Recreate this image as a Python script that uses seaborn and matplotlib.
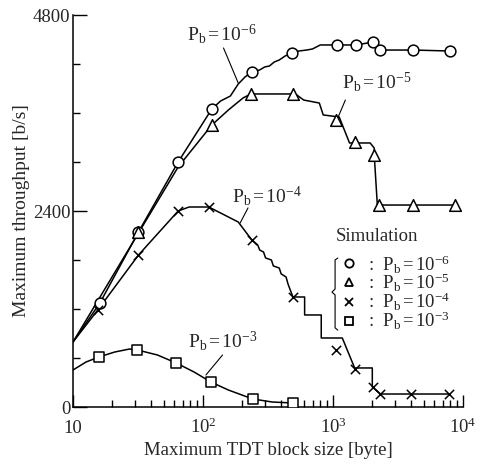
import numpy as np
import pandas as pd
import matplotlib
matplotlib.use("Agg")
import matplotlib.pyplot as plt
from matplotlib.ticker import FixedLocator, LogLocator, NullFormatter
import seaborn as sns

# --- theory curves ---
pb6_line_x = [10, 16.1, 31.9, 64.4, 116.9, 136.6, 162.4, 186.7, 210.4, 237.5, 272.9, 297.6,
              324.6, 353.8, 385.8, 428.4, 483.3, 545.3, 626.4, 695.2, 798.1, 1076, 1496,
              2041, 2318, 4159, 7888]
pb6_line_y = [796, 1273, 2143, 3000, 3649, 3747, 3808, 3955, 4041, 4102, 4127, 4163,
              4176, 4225, 4249, 4298, 4335, 4359, 4371, 4384, 4433, 4433, 4433,
              4469, 4371, 4371, 4359]

pb5_line_x = [10, 31.9, 64.4, 116.9, 156.8, 203.2, 233.4, 491.9, 527.3, 594.8, 784.9, 841.2,
              1116, 1340, 1931, 2076, 2076, 2193, 8654]
pb5_line_y = [796, 2131, 2939, 3453, 3637, 3784, 3833, 3833, 3820, 3759, 3722, 3576,
              3551, 3233, 3233, 3171, 3086, 2473, 2473]

pb4_line_x = [10, 15.5, 31.9, 64.4, 78.2, 110.9, 186.7, 237.5, 263.6, 272.9, 292.2, 302.9,
              335.9, 347.7, 385.8, 399.6, 435.5, 450.8, 491.9, 605, 605, 812.1, 812.1,
              1179, 1467, 2006, 2006, 2318, 7739]
pb4_line_y = [796, 1188, 1861, 2400, 2449, 2449, 2265, 2045, 1984, 1922, 1898, 1825,
              1800, 1727, 1702, 1629, 1592, 1506, 1347, 1347, 1127, 1127, 845,
              845, 478, 478, 245, 159, 159]

pb3_line_x = [10, 12.6, 15.8, 20.9, 27.2, 31.3, 44.6, 62.2, 85.3, 114.9, 156.8, 241.3, 341.7, 491.9]
pb3_line_y = [453, 551, 612, 673, 710, 698, 637, 539, 429, 306, 208, 98, 61, 49]

# --- simulation points ---
sim6_x = [16.1, 31.9, 64.4, 116.9, 237.5, 483.3, 1076, 1496, 2041, 2318, 4159, 7888]
sim6_y = [1273, 2143, 3000, 3649, 4102, 4335, 4433, 4433, 4469, 4371, 4371, 4359]

sim5_x = [31.9, 116.9, 233.4, 491.9, 1056, 1467, 2076, 2274, 4159, 8654]
sim5_y = [2143, 3453, 3833, 3833, 3514, 3245, 3086, 2473, 2473, 2473]

sim4_x = [15.5, 31.9, 64.4, 110.9, 237.5, 491.9, 1056, 1467, 2041, 2318, 4008, 7739]
sim4_y = [1188, 1861, 2400, 2449, 2045, 1347, 698, 465, 245, 159, 159, 159]

sim3_x = [15.8, 31.3, 62.2, 114.9, 241.3, 491.9]
sim3_y = [612, 698, 539, 306, 98, 49]

pb_labels = ["P$_\\mathrm{b}\\,$=$\\,$10$^{-6}$", "P$_\\mathrm{b}\\,$=$\\,$10$^{-5}$",
             "P$_\\mathrm{b}\\,$=$\\,$10$^{-4}$", "P$_\\mathrm{b}\\,$=$\\,$10$^{-3}$"]

sns.set_style("ticks")
plt.rcParams["font.family"] = ["Liberation Serif", "DejaVu Serif"]
plt.rcParams["mathtext.fontset"] = "custom"
plt.rcParams["mathtext.rm"] = "Liberation Serif"
plt.rcParams["mathtext.it"] = "Liberation Serif:italic"
plt.rcParams["axes.unicode_minus"] = True

fig = plt.figure(figsize=(4.81, 4.66), dpi=100)
ax = fig.add_axes([73 / 481, 59 / 466, 390 / 481, 392 / 466])

lines = [(pb6_line_x, pb6_line_y), (pb5_line_x, pb5_line_y),
         (pb4_line_x, pb4_line_y), (pb3_line_x, pb3_line_y)]
for lx, ly in lines:
    df = pd.DataFrame({"x": lx, "y": ly})
    sns.lineplot(data=df, x="x", y="y", sort=False, estimator=None, color="black",
                 lw=1.1, ax=ax, zorder=2)

sims = [(sim6_x, sim6_y, "o", 60), (sim5_x, sim5_y, "^", 70),
        (sim4_x, sim4_y, "x", 45), (sim3_x, sim3_y, "s", 55)]
for sx, sy, mk, sz in sims:
    df = pd.DataFrame({"x": sx, "y": sy})
    if mk == "x":
        sns.scatterplot(data=df, x="x", y="y", marker=mk, s=sz, color="black",
                        linewidth=1.1, ax=ax, zorder=3)
    else:
        sns.scatterplot(data=df, x="x", y="y", marker=mk, s=sz, facecolor="white",
                        edgecolor="black", linewidth=1.1, ax=ax, zorder=3)

ax.set_xscale("log")
ax.set_xlim(10, 1e4)
ax.set_ylim(0, 4800)
sns.despine(ax=ax)
for s in ["left", "bottom"]:
    ax.spines[s].set_linewidth(1.1)
    ax.spines[s].set_color("black")

ax.set_xticks([10, 100, 1000, 10000])
ax.set_xticklabels(["10", "10$^{2}$", "10$^{3}$", "10$^{4}$"])
ax.xaxis.set_minor_locator(LogLocator(base=10, subs=np.arange(2, 10)))
ax.xaxis.set_minor_formatter(NullFormatter())
ax.set_yticks([0, 2400, 4800])
ax.set_yticklabels(["0", "2400", "4800"])
ax.yaxis.set_minor_locator(FixedLocator([600, 1200, 1800, 3000, 3600, 4200]))

ax.tick_params(axis="both", which="both", direction="in", color="black", width=1.0)
ax.tick_params(axis="y", which="major", length=10, pad=2, labelsize=13.5)
ax.tick_params(axis="y", which="minor", length=5)
ax.tick_params(axis="x", which="major", length=9, pad=19, labelsize=13.5)
ax.tick_params(axis="x", which="minor", length=5)
for lab in ax.get_xticklabels():
    lab.set_verticalalignment("baseline")

ax.set_xlabel("Maximum TDT block size [byte]", fontsize=13.5, labelpad=3)
ax.set_ylabel("Maximum throughput [b/s]", fontsize=14, labelpad=2)

# curve labels with leader lines
label_pos = [(0.292, 0.936), (0.690, 0.814), (0.408, 0.523), (0.295, 0.151)]
leaders = [((143.8, 4396), (186.7, 3967)), ((1245, 3759), (1096, 3551)),
           ((221.8, 2437), (193.1, 2253)), ((141.4, 637), (105.3, 392))]
for txt, (tx, ty), (p0, p1) in zip(pb_labels, label_pos, leaders):
    ax.text(tx, ty, txt, transform=ax.transAxes, fontsize=14, va="baseline", ha="left")
    ax.plot([p0[0], p1[0]], [p0[1], p1[1]], color="black", lw=0.8)

# simulation key
ax.text(0.674, 0.436, "Simulation", transform=ax.transAxes, fontsize=13.5, va="center", ha="left")
key_y = [0.367, 0.319, 0.268, 0.219]
key_mk = ["o", "^", "x", "s"]
for ky, mk in zip(key_y, key_mk):
    if mk == "x":
        ax.plot([0.708], [ky], marker=mk, ms=6, mec="black", mew=1.3, ls="none",
                transform=ax.transAxes, clip_on=False)
    else:
        ax.plot([0.708], [ky], marker=mk, ms=6, mfc="white", mec="black", mew=1.3, ls="none",
                transform=ax.transAxes, clip_on=False)
key_text = "\n".join(":  " + t for t in pb_labels)
ax.text(0.756, 0.204, key_text, transform=ax.transAxes, fontsize=13.5, va="baseline",
        ha="left", linespacing=0.8)

brace_x = [0.679, 0.672, 0.672, 0.664, 0.672, 0.672, 0.679]
brace_y = [0.380, 0.375, 0.301, 0.293, 0.286, 0.202, 0.196]
ax.plot(brace_x, brace_y, color="black", lw=0.8, transform=ax.transAxes, clip_on=False)

fig.savefig("out.png", dpi=100)
